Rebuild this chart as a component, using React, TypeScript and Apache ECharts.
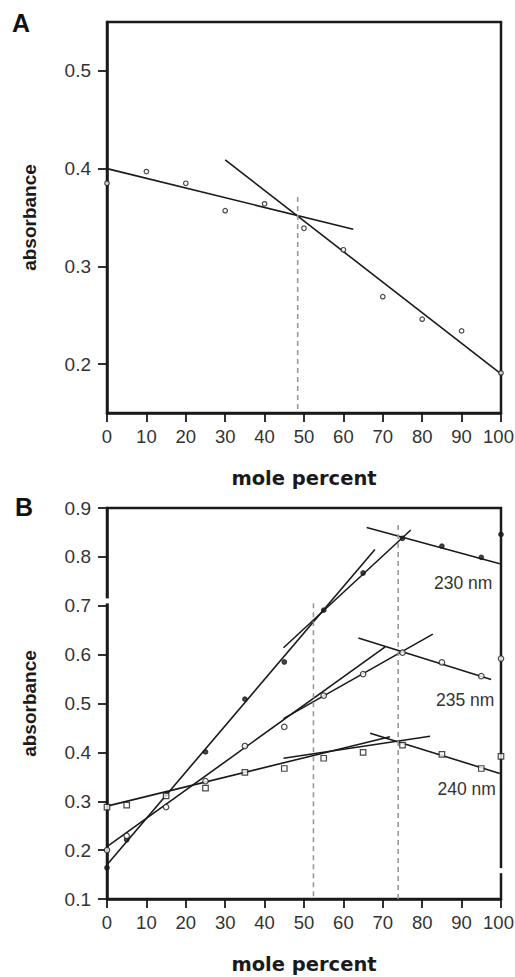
import React, { useEffect, useRef } from "react";
import * as echarts from "echarts";

// ---- Panel A data ----
const aX = [0, 10, 20, 30, 40, 50, 60, 70, 80, 90, 100];
const aY = [0.385, 0.397, 0.385, 0.357, 0.364, 0.339, 0.317, 0.269, 0.246, 0.234, 0.191];
const fitA1 = [[0, 0.4], [62.5, 0.338]];
const fitA2 = [[30, 0.409], [100, 0.19]];
const dashA = [[48.4, 0.371], [48.4, 0.15]];
const yTicksA = [0.2, 0.3, 0.4, 0.5];

// ---- Panel B data ----
const bX = [0, 5, 15, 25, 35, 45, 55, 65, 75, 85, 95, 100];
const b230 = [0.164, 0.221, 0.315, 0.401, 0.509, 0.585, 0.691, 0.767, 0.838, 0.822, 0.799, 0.846];
const b235 = [0.2, 0.229, 0.288, 0.341, 0.413, 0.452, 0.516, 0.56, 0.604, 0.584, 0.556, 0.592];
const b240 = [0.288, 0.292, 0.311, 0.327, 0.359, 0.367, 0.388, 0.4, 0.415, 0.396, 0.367, 0.392];
const fits230 = [
  [[0, 0.17], [68, 0.815]],
  [[44.8, 0.614], [77.1, 0.855]],
  [[65.9, 0.86], [99.7, 0.786]],
];
const fits235 = [
  [[0, 0.207], [70.6, 0.616]],
  [[44.8, 0.469], [82.7, 0.642]],
  [[63.8, 0.634], [97.5, 0.549]],
];
const fits240 = [
  [[0, 0.29], [71.8, 0.432]],
  [[44.8, 0.388], [82, 0.433]],
  [[66.8, 0.439], [99.7, 0.357]],
];
const dashB = [
  [[52.4, 0.705], [52.4, 0.1]],
  [[73.9, 0.865], [73.9, 0.1]],
];
const yTicksB = [0.1, 0.2, 0.3, 0.4, 0.5, 0.6, 0.7, 0.8, 0.9];
const xTicks = [0, 10, 20, 30, 40, 50, 60, 70, 80, 90, 100];
const seriesLabels = [
  { text: "230 nm", x: 90.4, y: 0.746 },
  { text: "235 nm", x: 90.9, y: 0.507 },
  { text: "240 nm", x: 91.3, y: 0.326 },
];
const breaksB = [
  { x: 0, y: 0.71 },
  { x: 100, y: 0.158 },
];

const INK = "#1a1a1a";
const LABEL = "#333";
const SANS = "Liberation Sans, Arial, sans-serif";

function xAxisFor(gridIndex: number) {
  return {
    type: "value",
    gridIndex,
    min: 0,
    max: 100,
    interval: 10,
    name: "mole percent",
    nameLocation: "middle",
    nameGap: 55,
    nameTextStyle: { fontFamily: "DejaVu Sans", fontWeight: "bold", fontSize: 19.5, color: INK },
    axisLine: { show: true, lineStyle: { color: INK, width: 2.5 } },
    axisTick: { show: true, inside: false, length: 9, customValues: xTicks, lineStyle: { color: INK, width: 1.8 } },
    axisLabel: {
      fontSize: 18.5,
      color: LABEL,
      fontFamily: SANS,
      margin: 14,
      customValues: xTicks,
      formatter: (v: number) => (v === 100 ? "{m|100}" : String(v)),
      rich: { m: { fontSize: 18.5, color: LABEL, fontFamily: SANS, padding: [0, 5, 0, 0] } },
    },
    splitLine: { show: false },
  };
}

function yAxisFor(gridIndex: number, min: number, max: number, ticks: number[]) {
  return {
    type: "value",
    gridIndex,
    min,
    max,
    name: "absorbance",
    nameLocation: "middle",
    nameRotate: 90,
    nameGap: 68,
    nameTextStyle: { fontFamily: SANS, fontWeight: "bold", fontSize: 19, color: INK },
    axisLine: { show: true, lineStyle: { color: INK, width: 2.5 } },
    axisTick: { show: true, inside: false, length: 9, customValues: ticks, lineStyle: { color: INK, width: 1.8 } },
    axisLabel: {
      fontSize: 19,
      color: LABEL,
      fontFamily: SANS,
      margin: 16,
      customValues: ticks,
      formatter: (v: number) => v.toFixed(1),
    },
    splitLine: { show: false },
  };
}

function fitLine(data: number[][], idx: number, dashed = false) {
  return {
    type: "line",
    xAxisIndex: idx,
    yAxisIndex: idx,
    data,
    showSymbol: false,
    symbol: "none",
    silent: true,
    clip: false,
    z: 3,
    lineStyle: dashed
      ? { color: "#999", width: 1.6, type: [5, 4] }
      : { color: INK, width: 1.6 },
  };
}

function scatter(xs: number[], ys: number[], idx: number, symbol: string, size: number, filled: boolean) {
  return {
    type: "scatter",
    xAxisIndex: idx,
    yAxisIndex: idx,
    data: xs.map((x, i) => [x, ys[i]]),
    symbol,
    symbolSize: size,
    clip: false,
    silent: true,
    z: 5,
    itemStyle: { color: filled ? INK : "#fff", borderColor: INK, borderWidth: 1.2 },
  };
}

export default function App() {
  const ref = useRef<HTMLDivElement>(null);
  useEffect(() => {
    if (!ref.current) return;
    const chart = echarts.init(ref.current, undefined, { renderer: "svg" });
    const series: any[] = [
      fitLine(fitA1, 0),
      fitLine(fitA2, 0),
      fitLine(dashA, 0, true),
      scatter(aX, aY, 0, "circle", 4.5, false),
      ...fits230.map((d) => fitLine(d, 1)),
      ...fits235.map((d) => fitLine(d, 1)),
      ...fits240.map((d) => fitLine(d, 1)),
      ...dashB.map((d) => fitLine(d, 1, true)),
      scatter(bX, b230, 1, "circle", 4.5, true),
      scatter(bX, b235, 1, "circle", 5.5, false),
      scatter(bX, b240, 1, "rect", 5.5, false),
    ];
    chart.setOption({
      animation: false,
      backgroundColor: "#fff",
      textStyle: { fontFamily: SANS },
      grid: [
        { left: 107, top: 22, width: 394, height: 391, show: true, borderColor: INK, borderWidth: 2.5, backgroundColor: "transparent", containLabel: false, outerBoundsMode: "none" },
        { left: 107, top: 508, width: 394, height: 391, show: true, borderColor: INK, borderWidth: 2.5, backgroundColor: "transparent", containLabel: false, outerBoundsMode: "none" },
      ],
      xAxis: [xAxisFor(0), xAxisFor(1)],
      yAxis: [yAxisFor(0, 0.15, 0.55, yTicksA), yAxisFor(1, 0.1, 0.9, yTicksB)],
      series,
    });
    const finder = { xAxisIndex: 1, yAxisIndex: 1 };
    const graphics: any[] = [
      { type: "text", left: 12, top: 10, style: { text: "A", fontSize: 25, fontWeight: "bold", fontFamily: SANS, fill: "#111" } },
      { type: "text", left: 15, top: 494, style: { text: "B", fontSize: 25, fontWeight: "bold", fontFamily: SANS, fill: "#111" } },
    ];
    breaksB.forEach((b) => {
      const p = chart.convertToPixel(finder as any, [b.x, b.y]) as number[];
      graphics.push({ type: "rect", shape: { x: p[0] - 4, y: p[1] - 2.5, width: 8, height: 5 }, style: { fill: "#fff" }, z: 100 });
    });
    seriesLabels.forEach((l) => {
      const p = chart.convertToPixel(finder as any, [l.x, l.y]) as number[];
      graphics.push({
        type: "text",
        x: p[0],
        y: p[1],
        style: { text: l.text, fontSize: 17.5, fontFamily: SANS, fill: LABEL, align: "center", verticalAlign: "middle" },
        z: 50,
      });
    });
    chart.setOption({ graphic: graphics });
    return () => chart.dispose();
  }, []);
  return (
    <div
      ref={ref}
      style={{ position: "absolute", left: 0, top: 0, width: 515, height: 977 }}
    />
  );
}
